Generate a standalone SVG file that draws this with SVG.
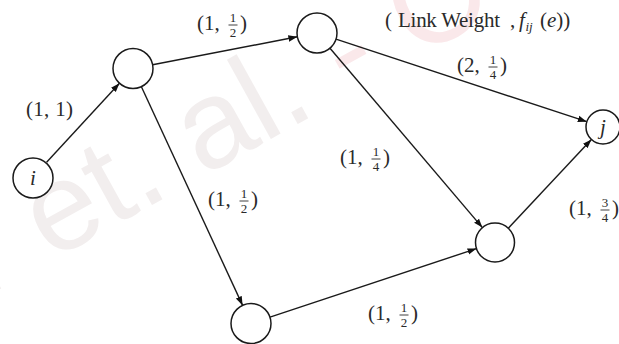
<svg xmlns="http://www.w3.org/2000/svg" width="619" height="344" viewBox="0 0 619 344">
<style>
.node{fill:#fff;stroke:#1a1a1a;stroke-width:1.5}
.edge{fill:none;stroke:#1a1a1a;stroke-width:1.4}
.lb{font-family:"Liberation Serif","Times New Roman",serif;font-size:21px;fill:#2a2a2a}
.fr{font-family:"Liberation Serif","Times New Roman",serif;font-size:13px;fill:#2a2a2a;text-anchor:middle}
.it{font-style:italic}
.bar{stroke:#2a2a2a;stroke-width:0.9}
.wm{font-family:"Liberation Sans",Arial,sans-serif;font-size:125px}
</style>
<defs>
<marker id="ah" markerWidth="10" markerHeight="8" refX="9" refY="4" orient="auto" markerUnits="userSpaceOnUse">
<path d="M0,0.8 L9,4 L0,7.2 Z" fill="#111"/>
</marker>
</defs>
<rect width="619" height="344" fill="#fff"/>
<g id="watermark">
<text class="wm" transform="translate(-16,298) rotate(-29)"><tspan fill="#f2eeee">r et. al. </tspan><tspan fill="#fae8ea">- C</tspan></text>
</g>
<g id="connectors">
<line class="edge" x1="46.6" y1="162.3" x2="119.5" y2="83.2" marker-end="url(#ah)"/>
<line class="edge" x1="152.6" y1="64.7" x2="297.4" y2="36.8" marker-end="url(#ah)"/>
<line class="edge" x1="141.4" y1="86.7" x2="242.6" y2="305.4" marker-end="url(#ah)"/>
<line class="edge" x1="336" y1="39.2" x2="586.8" y2="121.7" marker-end="url(#ah)"/>
<line class="edge" x1="330" y1="48.2" x2="482.4" y2="227.6" marker-end="url(#ah)"/>
<line class="edge" x1="270" y1="317.2" x2="476.5" y2="248.6" marker-end="url(#ah)"/>
<line class="edge" x1="508.3" y1="228.3" x2="591.4" y2="139.4" marker-end="url(#ah)"/>
</g>
<g id="node-i"><circle class="node" cx="33" cy="178" r="20"/><text class="lb it" x="33" y="185" text-anchor="middle">i</text></g>
<g id="node-a"><circle class="node" cx="133" cy="68.5" r="20"/></g>
<g id="node-b"><circle class="node" cx="317" cy="33" r="20"/></g>
<g id="node-j"><circle class="node" cx="603" cy="127" r="17"/><text class="lb it" x="603" y="134" text-anchor="middle">j</text></g>
<g id="node-c"><circle class="node" cx="495" cy="242.5" r="19.5"/></g>
<g id="node-d"><circle class="node" cx="251" cy="323.5" r="20"/></g>
<g id="labels">
<text class="lb" x="26" y="116" textLength="47" lengthAdjust="spacing">(1, 1)</text>
<g transform="translate(197,30)"><text class="lb">(1,</text><text class="fr" x="36" y="-8">1</text><line class="bar" x1="31.5" y1="-5" x2="40.5" y2="-5"/><text class="fr" x="36" y="7">2</text><text class="lb" x="43">)</text></g>
<g transform="translate(208,206)"><text class="lb">(1,</text><text class="fr" x="36" y="-8">1</text><line class="bar" x1="31.5" y1="-5" x2="40.5" y2="-5"/><text class="fr" x="36" y="7">2</text><text class="lb" x="43">)</text></g>
<g transform="translate(457,72)"><text class="lb">(2,</text><text class="fr" x="36" y="-8">1</text><line class="bar" x1="31.5" y1="-5" x2="40.5" y2="-5"/><text class="fr" x="36" y="7">4</text><text class="lb" x="43">)</text></g>
<g transform="translate(340,164)"><text class="lb">(1,</text><text class="fr" x="36" y="-8">1</text><line class="bar" x1="31.5" y1="-5" x2="40.5" y2="-5"/><text class="fr" x="36" y="7">4</text><text class="lb" x="43">)</text></g>
<g transform="translate(569,215)"><text class="lb">(1,</text><text class="fr" x="36" y="-8">3</text><line class="bar" x1="31.5" y1="-5" x2="40.5" y2="-5"/><text class="fr" x="36" y="7">4</text><text class="lb" x="43">)</text></g>
<g transform="translate(368,320)"><text class="lb">(1,</text><text class="fr" x="36" y="-8">1</text><line class="bar" x1="31.5" y1="-5" x2="40.5" y2="-5"/><text class="fr" x="36" y="7">2</text><text class="lb" x="43">)</text></g>
<g id="legend"><text class="lb" x="385" y="27" font-size="20">(</text><text class="lb" x="398" y="27" font-size="20" textLength="102" lengthAdjust="spacing">Link Weight</text><text class="lb" x="510" y="27" font-size="20">,</text><text class="lb it" x="519" y="27" font-size="20">f</text><text class="fr it" x="529" y="31" font-size="12" text-anchor="start">ij</text><text class="lb" x="540" y="27" font-size="20">(<tspan class="it">e</tspan>))</text></g>
</g>
</svg>
